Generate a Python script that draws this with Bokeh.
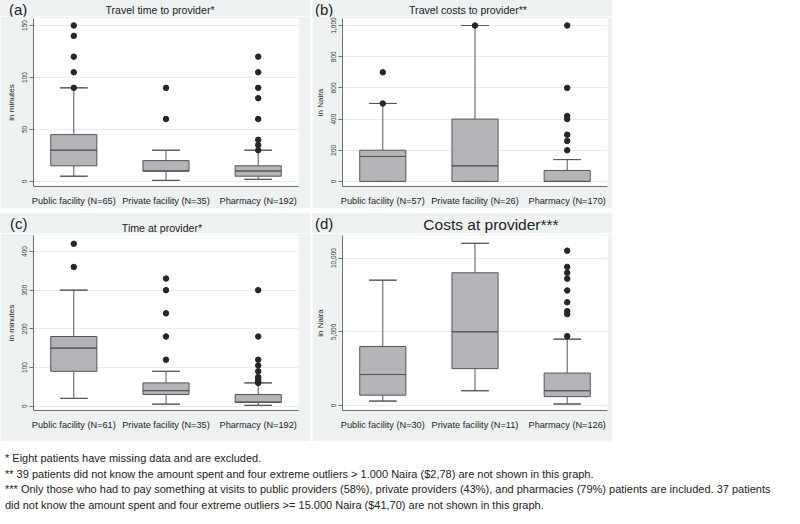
from bokeh.plotting import figure
from bokeh.models import Range1d, FixedTicker, NumeralTickFormatter, Div, ColumnDataSource
from bokeh.layouts import row, column
from bokeh.embed import file_html
from bokeh.resources import INLINE

# ---------------- data ----------------
categories = ["Public facility", "Private facility", "Pharmacy"]

# (a) Travel time to provider (minutes)
a_n = [65, 35, 192]
a_q1 = [15, 10, 5]
a_med = [30, 10, 10]
a_q3 = [45, 20, 15]
a_lo = [5, 1, 2]
a_hi = [90, 30, 30]
a_out = [[90, 105, 120, 140, 150], [60, 90], [30, 35, 40, 60, 80, 90, 105, 120]]
a_ticks = [0, 50, 100, 150]

# (b) Travel costs to provider (Naira)
b_n = [57, 26, 170]
b_q1 = [0, 0, 0]
b_med = [160, 100, 0]
b_q3 = [200, 400, 70]
b_lo = [0, 0, 0]
b_hi = [500, 1000, 140]
b_out = [[500, 700], [1000], [200, 260, 300, 400, 420, 600, 1000]]
b_ticks = [0, 200, 400, 600, 800, 1000]

# (c) Time at provider (minutes)
c_n = [61, 35, 192]
c_q1 = [90, 30, 10]
c_med = [150, 40, 10]
c_q3 = [180, 60, 30]
c_lo = [20, 5, 2]
c_hi = [300, 90, 60]
c_out = [[360, 420], [120, 180, 240, 300, 330], [60, 65, 70, 75, 90, 105, 120, 180, 300]]
c_ticks = [0, 100, 200, 300, 400]

# (d) Costs at provider (Naira)
d_n = [30, 11, 126]
d_q1 = [700, 2500, 600]
d_med = [2100, 5000, 1000]
d_q3 = [4000, 9000, 2200]
d_lo = [300, 1000, 100]
d_hi = [8500, 11000, 4500]
d_out = [[], [], [4700, 6200, 6400, 7000, 7800, 8600, 9000, 9400, 10500]]
d_ticks = [0, 5000, 10000]

footnotes = [
    "* Eight patients have missing data and are excluded.",
    "** 39 patients did not know the amount spent and four extreme outliers > 1.000 Naira ($2,78) are not shown in this graph.",
    "*** Only those who had to pay something at visits to public providers (58%), private providers (43%), and pharmacies (79%) patients are included. 37 patients",
    "did not know the amount spent and four extreme outliers >= 15.000 Naira ($41,70) are not shown in this graph.",
]

# ---------------- style ----------------
FONT = "Liberation Sans"
PANEL_BG = "#eff2f2"
BOX_FILL = "#b4b4b9"
LINE_COL = "#555555"
DOT_COL = "#262626"
AXIS_COL = "#707070"
GRID_COL = "#e8edef"
FRAME_H = 175


def header(letter, title, width, height, letter_x, letter_y, title_x, title_y, title_size):
    html = (
        f'<div style="position:relative;width:{width}px;height:{height}px;'
        f'font-family:\'{FONT}\',sans-serif;color:#222222;">'
        f'<span style="position:absolute;left:{letter_x}px;top:{letter_y}px;'
        f'transform:translateY(-50%);font-size:15px;line-height:1;white-space:nowrap;">{letter}</span>'
        f'<span style="position:absolute;left:{title_x}px;top:{title_y}px;'
        f'transform:translate(-50%,-50%);font-size:{title_size};line-height:1;'
        f'white-space:nowrap;">{title}</span></div>'
    )
    return Div(text=html, width=width, height=height,
               styles={"background-color": PANEL_BG, "position": "relative",
                       "overflow": "visible", "margin": "0", "padding": "0"})


def panel(n, q1, med, q3, lo, hi, out, ticks, yrange, ylabel,
          width, mb_left, mb_right, mb_top, mb_bottom):
    xs = [1, 2, 3]
    height = FRAME_H + mb_top + mb_bottom
    p = figure(width=width, height=height, output_backend="svg", toolbar_location=None,
               x_range=Range1d(0.563, 3.437), y_range=Range1d(*yrange),
               min_border_left=mb_left, min_border_right=mb_right,
               min_border_top=mb_top, min_border_bottom=mb_bottom,
               background_fill_color="white", border_fill_color=PANEL_BG,
               outline_line_color=None)

    bw = 0.5
    cw = 0.3
    src = ColumnDataSource(dict(x=xs, q1=q1, med=med, q3=q3, lo=lo, hi=hi))
    # whiskers
    p.segment(x0="x", y0="q3", x1="x", y1="hi", source=src, line_color=LINE_COL, line_width=1)
    p.segment(x0="x", y0="lo", x1="x", y1="q1", source=src, line_color=LINE_COL, line_width=1)
    p.rect(x="x", y="hi", width=cw, height=0.0001, source=src, line_color=LINE_COL,
           fill_color=None, line_width=1)
    p.rect(x="x", y="lo", width=cw, height=0.0001, source=src, line_color=LINE_COL,
           fill_color=None, line_width=1)
    # boxes
    p.vbar(x="x", bottom="q1", top="q3", width=bw, source=src, fill_color=BOX_FILL,
           line_color=LINE_COL, line_width=1)
    p.rect(x="x", y="med", width=bw, height=0.0001, source=src, line_color=LINE_COL,
           fill_color=None, line_width=1)
    # outliers
    ox, oy = [], []
    for i, vals in enumerate(out):
        for v in vals:
            ox.append(xs[i])
            oy.append(v)
    p.scatter(ox, oy, size=5.5, color=DOT_COL, line_color=DOT_COL)

    # axes
    p.xaxis.ticker = FixedTicker(ticks=xs)
    p.xaxis.major_label_overrides = {x: f"{c} (N={k})" for x, c, k in zip(xs, categories, n)}
    p.xaxis.major_tick_line_color = None
    p.xaxis.minor_tick_line_color = None
    p.xaxis.axis_line_color = AXIS_COL
    p.xaxis.major_label_text_font = FONT
    p.xaxis.major_label_text_font_size = "9.2px"
    p.xaxis.major_label_text_color = "#222222"
    p.xaxis.major_label_standoff = 3

    p.yaxis.ticker = FixedTicker(ticks=ticks)
    p.yaxis.formatter = NumeralTickFormatter(format="0,0")
    p.yaxis.major_label_orientation = "vertical"
    p.yaxis.major_label_text_font = FONT
    p.yaxis.major_label_text_font_size = "6.5px"
    p.yaxis.major_label_text_color = "#333333"
    p.yaxis.major_label_standoff = 2
    p.yaxis.major_tick_out = 4
    p.yaxis.major_tick_in = 0
    p.yaxis.minor_tick_line_color = None
    p.yaxis.major_tick_line_color = AXIS_COL
    p.yaxis.axis_line_color = AXIS_COL
    p.yaxis.axis_label = ylabel
    p.yaxis.axis_label_text_font = FONT
    p.yaxis.axis_label_text_font_size = "8px"
    p.yaxis.axis_label_text_font_style = "normal"
    p.yaxis.axis_label_text_color = "#222222"
    p.yaxis.axis_label_standoff = 4

    p.xgrid.grid_line_color = None
    p.ygrid.grid_line_color = GRID_COL
    p.ygrid.grid_line_width = 1
    return p


# top row: header 16 px + figure (2 + 175 + 15)
ha = header("(a)", "Travel time to provider*", 310, 16, 9, 9, 160, 10, "10.6px")
fa = panel(a_n, a_q1, a_med, a_q3, a_lo, a_hi, a_out, a_ticks, (-4.9, 156.7), "in minutes",
           310, 33, 12, 2, 15)
hb = header("(b)", "Travel costs to provider**", 300, 16, 3, 9, 156, 10, "10.6px")
fb = panel(b_n, b_q1, b_med, b_q3, b_lo, b_hi, b_out, b_ticks, (-32.6, 1045), "in Naira",
           300, 25, 5, 2, 15)
# bottom row: header 20 px + figure (2 + 175 + 31)
hc = header("(c)", "Time at provider*", 310, 20, 10, 10, 162, 15, "10.6px")
fc = panel(c_n, c_q1, c_med, c_q3, c_lo, c_hi, c_out, c_ticks, (-11.4, 441.4), "in minutes",
           310, 33, 12, 2, 31)
hd = header("(d)", "Costs at provider***", 300, 20, 3, 10, 179, 12, "15.5px")
fd = panel(d_n, d_q1, d_med, d_q3, d_lo, d_hi, d_out, d_ticks, (-340, 11530), "in Naira",
           300, 25, 5, 2, 31)

notes = Div(text="<br>".join(footnotes), width=784, height=62,
            styles={"font-family": "'Liberation Sans', sans-serif",
                    "font-size": "11px", "line-height": "15.5px", "color": "#222222",
                    "white-space": "nowrap", "overflow": "hidden"})

layout = column(
    row(column(ha, fa, spacing=0), column(hb, fb, spacing=0), spacing=2),
    row(column(hc, fc, spacing=0), column(hd, fd, spacing=0), spacing=2),
    notes, spacing=5)

open("out.html", "w").write(file_html(layout, INLINE))
